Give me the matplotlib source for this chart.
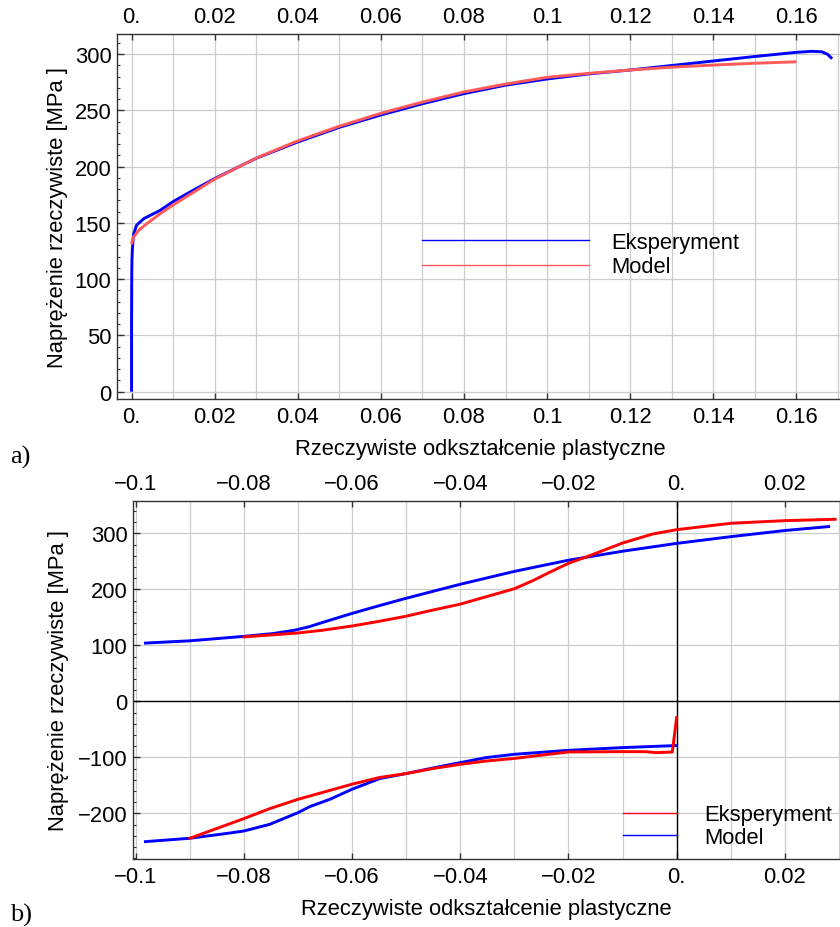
import numpy as np
import matplotlib
matplotlib.use("Agg")
import matplotlib.pyplot as plt
from matplotlib.lines import Line2D
from matplotlib.ticker import MultipleLocator

plt.rcParams['font.family'] = ['Liberation Sans', 'DejaVu Sans']
plt.rcParams['axes.unicode_minus'] = True

# ---------------- a) monotonic tension: true stress vs true plastic strain
eps_exp_a = [0.0, 0.0, 0.00005, 0.0001, 0.0002, 0.0005, 0.0012, 0.003, 0.0068,
             0.01, 0.0148, 0.02, 0.03, 0.04, 0.05, 0.06, 0.07, 0.08, 0.09,
             0.10, 0.11, 0.12, 0.13, 0.14, 0.15, 0.16, 0.1637, 0.1661,
             0.1675, 0.1686]
sig_exp_a = [0.0, 60.0, 105.0, 118.0, 127.0, 140.0, 148.0, 154.0, 161.0,
             169.0, 179.0, 189.5, 207.5, 222.0, 235.0, 246.0, 256.0, 265.0,
             272.5, 278.0, 282.5, 286.0, 290.0, 294.0, 298.0, 301.7, 302.6,
             302.2, 300.0, 296.0]

eps_mod_a = [0.0, 0.0004, 0.0016, 0.0032, 0.0068, 0.01, 0.0148, 0.02, 0.03,
             0.04, 0.05, 0.06, 0.07, 0.08, 0.09, 0.10, 0.11, 0.12, 0.13,
             0.14, 0.15, 0.16]
sig_mod_a = [131.0, 137.0, 143.0, 148.0, 158.0, 166.0, 177.0, 189.0, 207.7,
             223.0, 236.0, 247.5, 257.5, 266.5, 273.5, 279.5, 283.0, 286.0,
             288.5, 290.4, 292.0, 293.3]

xticks_a = [0.0, 0.02, 0.04, 0.06, 0.08, 0.10, 0.12, 0.14, 0.16]
xlabels_a = ['0.', '0.02', '0.04', '0.06', '0.08', '0.1', '0.12', '0.14', '0.16']
yticks_a = [0, 50, 100, 150, 200, 250, 300]
ylabels_a = ['0', '50', '100', '150', '200', '250', '300']

# ---------------- b) tension-compression cycle
eps_exp_b_up = [-0.08, -0.07, -0.0654, -0.06, -0.0549, -0.05, -0.0456, -0.04,
                -0.0352, -0.03, -0.0266, -0.0235, -0.02, -0.0161, -0.013,
                -0.0099, -0.0044, 0.0, 0.0101, 0.02, 0.0293]
sig_exp_b_up = [115.0, 122.0, 127.0, 134.5, 143.0, 152.0, 161.8, 173.5,
                186.8, 201.0, 215.4, 230.3, 246.4, 260.0, 271.5, 283.0,
                298.8, 306.5, 318.0, 322.6, 325.0]

eps_exp_b_low = [0.0, -0.0008, -0.0038, -0.0056, -0.01, -0.02, -0.0247,
                 -0.03, -0.0352, -0.04, -0.045, -0.05, -0.0549, -0.06, -0.07,
                 -0.0752, -0.08, -0.09]
sig_exp_b_low = [-29.0, -90.5, -91.7, -90.0, -89.9, -90.5, -95.8, -102.0,
                 -106.6, -112.5, -120.0, -129.0, -136.0, -148.0, -175.0,
                 -191.6, -209.5, -244.6]

eps_mod_b_up = [-0.0982, -0.09, -0.08, -0.0746, -0.0706, -0.068, -0.0654,
                -0.06, -0.0549, -0.05, -0.04, -0.03, -0.02, -0.01, 0.0, 0.01,
                0.02, 0.0281]
sig_mod_b_up = [104.0, 108.0, 116.0, 121.0, 127.0, 133.0, 141.0, 157.0,
                171.0, 184.0, 209.0, 232.0, 252.0, 268.0, 282.0, 294.0,
                305.0, 312.0]

eps_mod_b_low = [0.0, -0.01, -0.02, -0.03, -0.0352, -0.04, -0.045, -0.05,
                 -0.0549, -0.06, -0.0641, -0.0678, -0.07, -0.0752, -0.08,
                 -0.0832, -0.09, -0.0982]
sig_mod_b_low = [-79.0, -82.7, -87.5, -94.6, -100.5, -109.5, -119.0, -129.0,
                 -138.0, -157.0, -175.0, -188.0, -198.8, -219.6, -231.6,
                 -236.0, -244.6, -250.6]

xticks_b = [-0.10, -0.08, -0.06, -0.04, -0.02, 0.0, 0.02]
xlabels_b = ['\u22120.1', '\u22120.08', '\u22120.06', '\u22120.04',
             '\u22120.02', '0.', '0.02']
yticks_b = [-200, -100, 0, 100, 200, 300]
ylabels_b = ['\u2212200', '\u2212100', '0', '100', '200', '300']

legend_labels = ['Eksperyment', 'Model']

# ---------------- figure
W, H = 840, 928
fig = plt.figure(figsize=(W / 100, H / 100), dpi=100)


def box(l, t, r, b):
    return [l / W, 1 - b / H, (r - l) / W, (b - t) / H]


FS = 15.8
FRAME = '#333333'
GRID = '#cccccc'


def style(ax, xticks, xlabels, yticks, ylabels, ymin_step):
    for s in ['top', 'bottom', 'left']:
        ax.spines[s].set_color(FRAME)
        ax.spines[s].set_linewidth(1.0)
    ax.spines['right'].set_visible(False)
    ax.set_xticks(xticks)
    ax.set_xticklabels(xlabels)
    ax.set_yticks(yticks)
    ax.set_yticklabels(ylabels)
    ax.xaxis.set_minor_locator(MultipleLocator(0.01))
    ax.yaxis.set_minor_locator(MultipleLocator(ymin_step))
    ax.tick_params(axis='x', which='major', direction='in', top=True,
                   bottom=True, labeltop=True, labelbottom=True, length=4,
                   width=1.0, color=FRAME, labelsize=FS, pad=5)
    ax.tick_params(axis='x', which='minor', length=0, top=True, bottom=True)
    ax.tick_params(axis='y', which='major', direction='in', left=True,
                   right=False, length=5, width=1.0, color=FRAME,
                   labelsize=FS, pad=4)
    ax.tick_params(axis='y', which='minor', direction='in', left=True,
                   right=False, length=2.5, width=0.8, color=FRAME)
    ax.grid(True, axis='x', which='both', color=GRID, lw=0.9)
    ax.grid(True, axis='y', which='major', color=GRID, lw=0.9)
    ax.set_axisbelow(True)


# a)
ax1 = fig.add_axes(box(117, 35, 840, 400))
style(ax1, xticks_a, xlabels_a, yticks_a, ylabels_a, 10)
ax1.set_xlim(-0.0035, 0.1705)
ax1.set_ylim(-6.5, 318)
ax1.plot(eps_exp_a, sig_exp_a, color='#0000ff', lw=2.1, solid_capstyle='butt')
ax1.plot(eps_mod_a, sig_mod_a, color='#ff5a5a', lw=2.1, solid_capstyle='butt')

# b)
ax2 = fig.add_axes(box(133, 502, 840, 860))
style(ax2, xticks_b, xlabels_b, yticks_b, ylabels_b, 20)
ax2.set_xlim(-0.1005, 0.0302)
ax2.set_ylim(-281.6, 357.7)
ax2.axhline(0, color='black', lw=1.0, zorder=1.5)
ax2.axvline(0, color='black', lw=1.0, zorder=1.5)
ax2.plot(eps_mod_b_up, sig_mod_b_up, color='#0000ff', lw=2.1)
ax2.plot(eps_mod_b_low, sig_mod_b_low, color='#0000ff', lw=2.1)
ax2.plot(eps_exp_b_up, sig_exp_b_up, color='#ff0000', lw=2.1)
ax2.plot(eps_exp_b_low, sig_exp_b_low, color='#ff0000', lw=2.1)


# legends drawn in figure pixels
def legend_entry(x0, x1, y, color, text, tx):
    fig.add_artist(Line2D([x0 / W, x1 / W], [1 - y / H, 1 - y / H],
                          color=color, lw=1.0, transform=fig.transFigure))
    fig.text(tx / W, 1 - (y + 2) / H, text, fontsize=FS, ha='left',
             va='center')


legend_entry(422, 589, 241, '#0000ff', legend_labels[0], 611)
legend_entry(422, 589, 266, '#ff5a5a', legend_labels[1], 611)
legend_entry(623, 677, 814, '#ff0000', legend_labels[0], 704)
legend_entry(623, 677, 836, '#0000ff', legend_labels[1], 704)

# axis titles
ylab = 'Naprężenie rzeczywiste [MPa ]'
xlab = 'Rzeczywiste odkształcenie plastyczne'
fig.text(58 / W, 1 - 218 / H, ylab, rotation=90, fontsize=FS, ha='center',
         va='center')
fig.text(59 / W, 1 - 681 / H, ylab, rotation=90, fontsize=FS, ha='center',
         va='center')
fig.text(480 / W, 1 - 450 / H, xlab, fontsize=FS, ha='center', va='center')
fig.text(486 / W, 1 - 910 / H, xlab, fontsize=FS, ha='center', va='center')

fig.text(10 / W, 1 - 457 / H, 'a)', fontsize=19, family='Liberation Serif',
         ha='left', va='center')
fig.text(10 / W, 1 - 915 / H, 'b)', fontsize=19, family='Liberation Serif',
         ha='left', va='center')

fig.savefig('out.png', dpi=100)
